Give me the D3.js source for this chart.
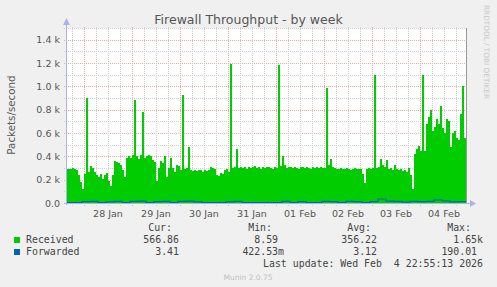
<!DOCTYPE html>
<html>
<head>
<meta charset="utf-8">
<script src="https://cdn.jsdelivr.net/npm/d3@7"></script>
<style>
  body { margin: 0; background: #f0f0f0; }
  svg text { font-family: "DejaVu Sans", sans-serif; }
  .mono { font-family: "DejaVu Sans Mono", monospace; white-space: pre; }
</style>
</head>
<body>
<svg id="chart" width="497" height="287"></svg>
<script>
// hourly samples starting 27 Jan 15:00 (packets/second)
const startTime = Date.UTC(2026, 0, 27, 15);
const endTime = Date.UTC(2026, 1, 4, 23);
const received = [
  290, 295, 290, 300, 290, 280, 240, 180, 120, 250,
  900, 270, 320, 300, 270, 240, 220, 250, 210, 240,
  260, 190, 150, 240, 360, 350, 340, 330, 280, 220,
  390, 400, 390, 410, 880, 400, 380, 410, 780, 390,
  400, 410, 400, 370, 350, 190, 300, 360, 340, 400,
  220, 300, 390, 300, 270, 330, 320, 280, 930, 290,
  300, 480, 280, 275, 280, 275, 280, 285, 270, 280,
  275, 280, 310, 300, 290, 240, 230, 260, 250, 280,
  290, 270, 1190, 300, 310, 460, 300, 305, 300, 310,
  295, 305, 300, 310, 315, 300, 305, 295, 310, 300,
  305, 310, 300, 295, 305, 300, 1180, 320, 400, 330,
  300, 310, 305, 300, 310, 300, 295, 305, 310, 300,
  305, 300, 295, 305, 300, 310, 300, 305, 300, 300,
  990, 330, 380, 310, 300, 290, 295, 300, 290, 295,
  300, 290, 285, 295, 300, 290, 295, 290, 250, 170,
  290, 300, 295, 300, 1100, 300, 310, 380, 330, 310,
  370, 290, 300, 280, 330, 290, 280, 290, 275, 280,
  270, 300, 240, 120, 420, 460, 490, 450, 1100, 450,
  680, 740, 800, 620, 650, 720, 680, 830, 640, 600,
  720, 700, 480, 600, 620, 560, 540, 760, 1000, 560
];
// 4-hourly samples
const forwarded = [
  0, 0, 8, 10, 0, 6, 9, 0, 10, 11,
  0, 8, 9, 0, 9, 12, 6, 0, 0, 0,
  5, 10, 0, 0, 0, 0, 0, 9, 0, 8,
  0, 0, 9, 8, 0, 9, 7, 0, 8, 30,
  12, 10, 4, 9, 8, 10, 22, 14, 6, 8
];
const yTicks = [0, 200, 400, 600, 800, 1000, 1200, 1400];
const yTickLabels = ['0.0', '0.2 k', '0.4 k', '0.6 k', '0.8 k', '1.0 k', '1.2 k', '1.4 k'];
const seriesNames = ['Received', 'Forwarded'];
const seriesColors = ['#00cc00', '#0066b3'];
const legendCols = ['Cur:', 'Min:', 'Avg:', 'Max:'];
const legendVals = [
  ['566.86', '8.59 ', '356.22', '1.65k'],
  ['3.41', '422.53m', '3.12', '190.01 ']
];

const svg = d3.select('#chart');
const pLeft = 66, pRight = 466, pTop = 28, pBottom = 203;

const x = d3.scaleUtc().domain([startTime, endTime]).range([pLeft, pRight]);
const y = d3.scaleLinear().domain([0, 1500]).range([pBottom, pTop]);

svg.append('rect').attr('width', 497).attr('height', 287).attr('fill', '#f0f0f0');
svg.append('rect')
  .attr('x', pLeft).attr('y', pTop)
  .attr('width', pRight - pLeft).attr('height', pBottom - pTop)
  .attr('fill', '#ffffff');

// grid
const minorColor = '#cfcfcf', majorColor = '#eaa8a8';
const grid = svg.append('g').attr('stroke-dasharray', '1,1').attr('shape-rendering', 'crispEdges');
const minorY = d3.range(100, 1501, 200);
grid.selectAll('.hmin').data(minorY).join('line')
  .attr('x1', pLeft - 2).attr('x2', pRight + 2)
  .attr('y1', d => Math.round(y(d)) + 0.5).attr('y2', d => Math.round(y(d)) + 0.5)
  .attr('stroke', minorColor);
grid.selectAll('.hmaj').data(yTicks.slice(1)).join('line')
  .attr('x1', pLeft - 2).attr('x2', pRight + 2)
  .attr('y1', d => Math.round(y(d)) + 0.5).attr('y2', d => Math.round(y(d)) + 0.5)
  .attr('stroke', majorColor);

const sixHours = d3.utcHour.every(6).range(new Date(startTime), new Date(endTime));
grid.selectAll('.vline').data(sixHours).join('line')
  .attr('x1', d => Math.round(x(d)) + 0.5).attr('x2', d => Math.round(x(d)) + 0.5)
  .attr('y1', pTop - 1).attr('y2', pBottom + 3)
  .attr('stroke', d => d.getUTCHours() === 0 ? majorColor : minorColor);

const hour = 3600 * 1000;
const recvPts = received.map((v, i) => [startTime + i * hour, v]);
recvPts.push([startTime + received.length * hour, received[received.length - 1]]);
const fwdPts = forwarded.map((v, i) => [startTime + i * 4 * hour, v]);
fwdPts.push([startTime + forwarded.length * 4 * hour, forwarded[forwarded.length - 1]]);

svg.append('path')
  .datum(recvPts)
  .attr('fill', seriesColors[0])
  .attr('shape-rendering', 'crispEdges')
  .attr('d', d3.area().curve(d3.curveStepAfter)
    .x(d => x(d[0])).y0(pBottom).y1(d => y(d[1])));

svg.append('path')
  .datum(fwdPts)
  .attr('fill', 'none')
  .attr('stroke', seriesColors[1])
  .attr('stroke-width', 1.2)
  .attr('d', d3.line().curve(d3.curveStepAfter)
    .x(d => x(d[0])).y(d => y(d[1]) - 0.5));

// axes
const axisColor = '#aab2ee';
svg.append('line').attr('x1', pLeft + 0.5).attr('x2', pLeft + 0.5).attr('y1', pBottom + 2).attr('y2', 22)
  .attr('stroke', axisColor);
svg.append('path').attr('d', `M${pLeft - 3},25 L${pLeft + 4},25 L${pLeft + 0.5},18 Z`).attr('fill', axisColor);
svg.append('line').attr('x1', pLeft - 2).attr('x2', 471).attr('y1', pBottom + 0.5).attr('y2', pBottom + 0.5)
  .attr('stroke', axisColor);
svg.append('path').attr('d', `M470,${pBottom - 3} L470,${pBottom + 4} L476,${pBottom + 0.5} Z`).attr('fill', axisColor);
svg.append('line').attr('x1', pRight + 0.5).attr('x2', pRight + 0.5).attr('y1', pTop).attr('y2', pBottom)
  .attr('stroke', '#999999');

// y tick labels
svg.selectAll('.ylab').data(yTicks).join('text')
  .attr('x', 60).attr('y', d => y(d) + 3.5)
  .attr('text-anchor', 'end').attr('font-size', 9.5).attr('fill', '#555')
  .text((d, i) => yTickLabels[i]);

// x labels at noon
const noons = d3.utcDay.range(new Date(Date.UTC(2026, 0, 28)), new Date(Date.UTC(2026, 1, 5)))
  .map(d => new Date(+d + 12 * hour));
svg.selectAll('.xlab').data(noons).join('text')
  .attr('x', d => x(d)).attr('y', 217)
  .attr('text-anchor', 'middle').attr('font-size', 9.5).attr('fill', '#555')
  .text(d3.utcFormat('%d %b'));

// titles
svg.append('text').attr('x', 248.5).attr('y', 24).attr('text-anchor', 'middle')
  .attr('font-size', 12.5).attr('fill', '#555').text('Firewall Throughput - by week');
svg.append('text').attr('transform', 'translate(15,115) rotate(-90)').attr('text-anchor', 'middle')
  .attr('font-size', 10.3).attr('fill', '#555').text('Packets/second');
svg.append('text').attr('transform', 'translate(484,5) rotate(90)')
  .attr('font-size', 7.3).attr('fill', '#c8c8c8').text('RRDTOOL / TOBI OETIKER');

// legend
const colEnds = [172, 272, 371, 471];
const valEnds = [179, 284, 377, 483];
const lg = svg.append('g').attr('font-size', 9.9).attr('fill', '#444');
lg.selectAll('.hdr').data(legendCols).join('text')
  .attr('class', 'mono').attr('x', (d, i) => colEnds[i]).attr('y', 231)
  .attr('text-anchor', 'end').text(d => d);
seriesNames.forEach((name, r) => {
  const yy = 243 + r * 12;
  lg.append('rect').attr('x', 14).attr('y', yy - 6).attr('width', 6).attr('height', 6)
    .attr('fill', seriesColors[r]);
  lg.append('text').attr('class', 'mono').attr('x', 26).attr('y', yy).text(name);
  lg.selectAll('.v' + r).data(legendVals[r]).join('text')
    .attr('class', 'mono').attr('x', (d, i) => valEnds[i]).attr('y', yy)
    .attr('text-anchor', 'end').text(d => d);
});
lg.append('text').attr('class', 'mono').attr('x', 483).attr('y', 267).attr('text-anchor', 'end')
  .text('Last update: Wed Feb  4 22:55:13 2026');

svg.append('text').attr('x', 248).attr('y', 280).attr('text-anchor', 'middle')
  .attr('font-size', 7.5).attr('fill', '#c0c0c0').text('Munin 2.0.75');
</script>
</body>
</html>
